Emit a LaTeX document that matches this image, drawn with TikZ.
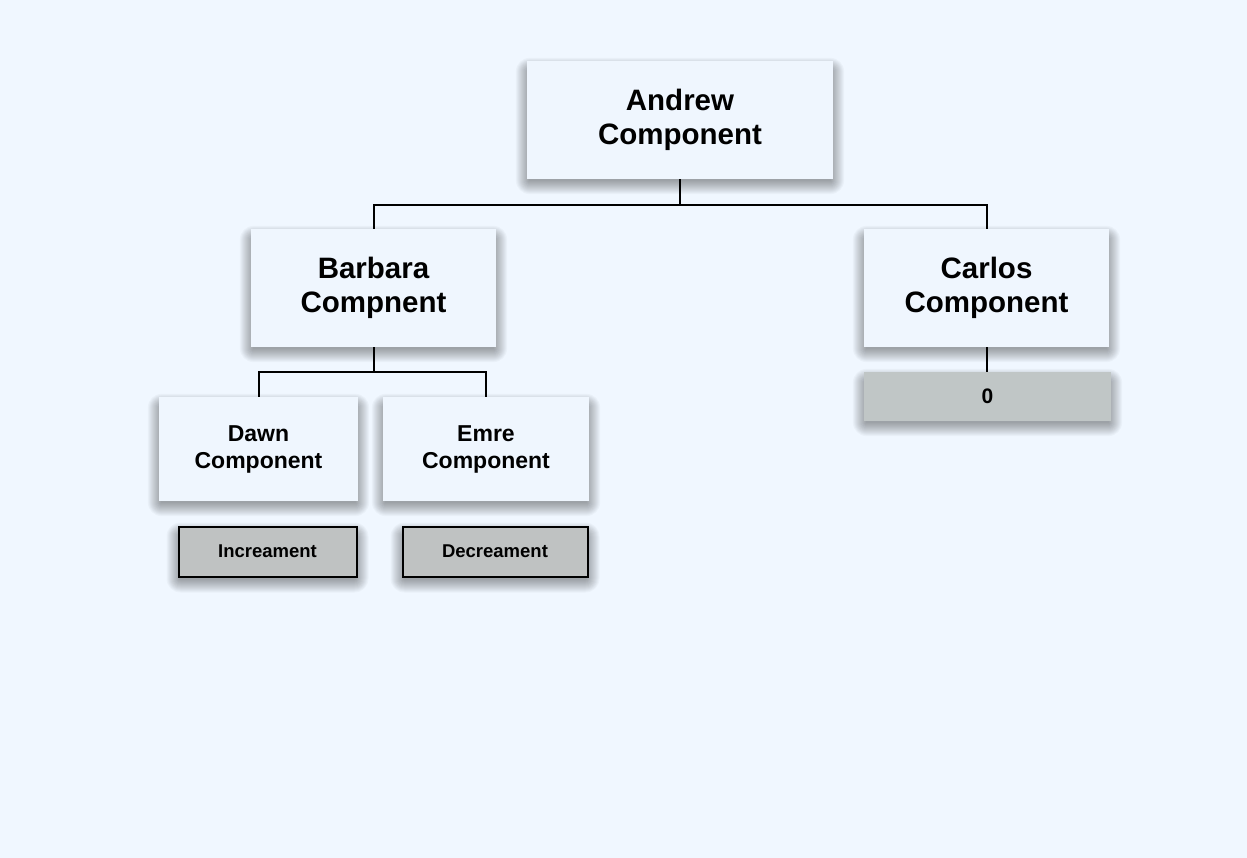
\documentclass[tikz,border=0pt]{standalone}
\usepackage{fontspec}
\setmainfont{Liberation Sans}
\usepackage{tikz}
\usepackage{xcolor}
\definecolor{pageblue}{RGB}{240,247,255}
\definecolor{cardblue}{RGB}{239,246,254}
\definecolor{btngrey}{RGB}{191,194,194}
\definecolor{countgrey}{RGB}{192,198,198}
\pgfdeclarelayer{page}
\pgfdeclarelayer{shade}
\pgfsetlayers{page,shade,main}
% soft shadow under a node, built from stacked transparent boxes
\newcommand{\cardshade}[1]{%
  \begin{pgfonlayer}{shade}
    \foreach \r in {1,...,14}{
      \fill[black, opacity=0.026, rounded corners=\r pt]
        ([shift={({-\r+3},{11-\r})}]#1.north west) rectangle
        ([shift={({\r-3},{1+\r})}]#1.south east);
    }
  \end{pgfonlayer}}

\begin{document}
\begin{tikzpicture}[x=1pt, y=-1pt,
    card/.style={fill=cardblue, inner sep=0pt, align=center},
    bigcard/.style={card, minimum width=245pt, minimum height=118pt,
      font=\fontsize{29.5}{34}\selectfont\bfseries},
    smallcard/.style={card, minimum height=104pt,
      font=\fontsize{23}{27}\selectfont\bfseries},
    btn/.style={draw=black, line width=2pt, fill=btngrey, inner sep=0pt,
      minimum width=178pt, minimum height=50pt,
      font=\fontsize{18.5}{22}\selectfont\bfseries},
    wire/.style={line width=2pt, black}]

    % Page
    \begin{pgfonlayer}{page}
      \fill[pageblue] (0,0) rectangle (1247,858);
    \end{pgfonlayer}

    % Top component
    \node[bigcard, minimum width=306pt] (andrew) at (680,120)
      {Andrew\\Component};

    % Second level
    \node[bigcard] (barbara) at (373.5,288) {Barbara\\Compnent};
    \node[bigcard] (carlos) at (986.5,288) {Carlos\\Component};

    % Counter display
    \node[card, fill=countgrey, minimum width=247pt, minimum height=49pt,
      font=\fontsize{21}{24}\selectfont\bfseries] (count) at (987.5,396.5) {0};

    % Third level
    \node[smallcard, minimum width=199pt] (dawn) at (258.5,449)
      {Dawn\\Component};
    \node[smallcard, minimum width=206pt] (emre) at (486,449)
      {Emre\\Component};

    % Buttons
    \node[btn] (inc) at (267.5,551.5) {Increament};
    \node[btn, minimum width=185pt] (dec) at (495,551.5) {Decreament};

    % Shadows
    \foreach \n in {andrew,barbara,carlos,count,dawn,emre,inc,dec}
      {\cardshade{\n}}

    % Tree lines
    \draw[wire] (andrew.south) -- ++(0,26) -| (barbara.north);
    \draw[wire] (andrew.south) -- ++(0,26) -| (carlos.north);
    \draw[wire] (barbara.south) -- ++(0,25) -| (dawn.north);
    \draw[wire] (barbara.south) -- ++(0,25) -| (emre.north);
    \draw[wire] (carlos.south) -- (count.north -| carlos.south);
\end{tikzpicture}
\end{document}
